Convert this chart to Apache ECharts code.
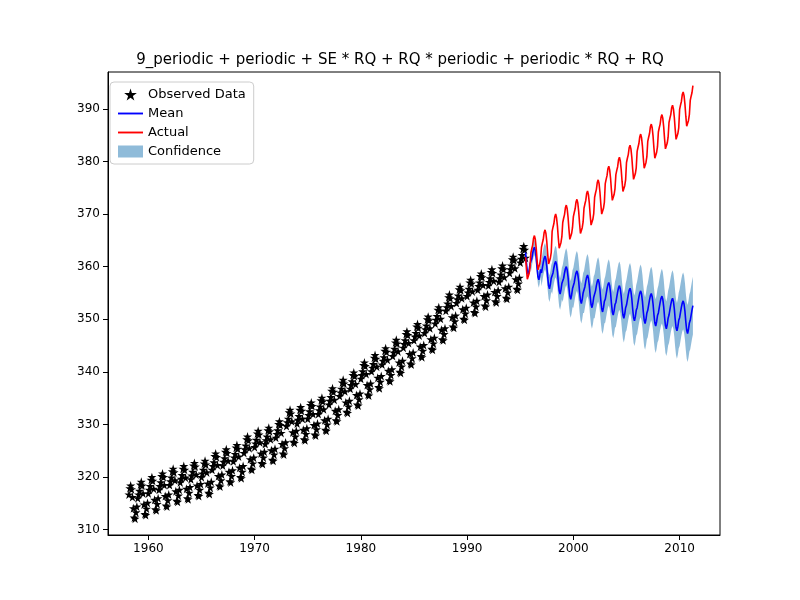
<!DOCTYPE html>
<html><head><meta charset="utf-8">
<script src="https://cdn.jsdelivr.net/npm/echarts@6/dist/echarts.min.js"></script>
<style>html,body{margin:0;background:#fff}#c{width:800px;height:600px}</style>
</head><body><div id="c"></div>
<script>
// Observed: annual levels 1958..1995 and monthly seasonal offsets
const obsYears = [1958,1959,1960,1961,1962,1963,1964,1965,1966,1967,1968,1969,1970,1971,1972,1973,1974,1975,1976,1977,1978,1979,1980,1981,1982,1983,1984,1985,1986,1987,1988,1989,1990,1991,1992,1993,1994,1995];
const obsLevel = [315.3,316.0,316.9,317.6,318.5,319.0,319.6,320.0,321.4,322.2,323.0,324.6,325.7,326.3,327.5,329.7,330.2,331.1,332.0,333.8,335.4,336.8,338.7,340.1,341.4,343.0,344.6,346.0,347.4,349.2,351.6,353.1,354.4,355.6,356.4,357.1,358.8,360.8];
const obsSeason = [0.0,0.7,1.4,2.6,3.1,2.4,0.9,-1.2,-3.0,-3.2,-2.0,-0.9];
// Actual (red) 1995..2011
const actYears = [1995,1996,1997,1998,1999,2000,2001,2002,2003,2004,2005,2006,2007,2008,2009,2010,2011];
const actLevel = [360.8,362.6,363.7,366.7,368.4,369.5,371.1,373.2,375.8,377.5,379.8,381.9,383.8,385.6,387.4,389.9,391.6];
const actSeason = [0.0,0.8,1.5,2.8,3.3,2.6,1.0,-1.3,-3.2,-3.4,-2.1,-1.0];
// Mean prediction (blue) and confidence half-width
const meanLevel = [361.5,360.5,358.8,357.8,356.8,356.0,355.2,354.4,353.8,353.2,352.7,352.2,351.7,351.2,350.8,350.3,349.8];
const meanSeason = [0.0,1.0,2.0,2.8,3.2,2.6,1.2,-0.8,-2.4,-3.0,-2.2,-1.0];
const halfWidth = [0.5,1.5,2.5,3.0,3.5,3.8,4.0,4.2,4.4,4.6,4.8,5.0,5.1,5.2,5.3,5.4,5.5];

const obs=[];
obsYears.forEach((y,i)=>{for(let m=0;m<12;m++){if(y===1958&&m<2)continue;const t=y+m/12;if(t>1995.5)break;obs.push([t,obsLevel[i]+obsSeason[m]]);}});
const act=[],mean=[],bandRows=[];
actYears.forEach((y,i)=>{for(let m=0;m<12;m++){const t=y+m/12;if(t<1995.5||t>2011.25)continue;
 act.push([t,actLevel[i]+actSeason[m]]);const mv=meanLevel[i]+meanSeason[m];mean.push([t,mv]);
 bandRows.push([t,mv-halfWidth[i],mv+halfWidth[i]]);}});

const star='path://M50,0 L61,35 L98,35 L68,57 L79,91 L50,70 L21,91 L32,57 L2,35 L39,35 Z';
const lineIcon='path://M0,0 L40,0 L40,3 L0,3 Z';
const c=echarts.init(document.getElementById('c'));
c.setOption({
 animation:false,
 title:{text:'9_periodic + periodic + SE * RQ + RQ * periodic + periodic * RQ + RQ',left:'center',top:48,textStyle:{fontSize:15,fontWeight:'normal',color:'#000',fontFamily:'DejaVu Sans'}},
 grid:{left:108,right:80,top:72,bottom:65,show:true,borderColor:'#000',borderWidth:1},
 xAxis:{type:'value',min:1956.2,max:2013.8,interval:10,axisLine:{onZero:false,lineStyle:{color:'#000'}},splitLine:{show:false},
  axisLabel:{color:'#000',fontSize:12,fontFamily:'DejaVu Sans',customValues:[1960,1970,1980,1990,2000,2010],formatter:v=>String(v)},
  axisTick:{customValues:[1960,1970,1980,1990,2000,2010],lineStyle:{color:'#000'}}},
 yAxis:{type:'value',min:309,max:397,axisLine:{show:true,onZero:false,lineStyle:{color:'#000'}},splitLine:{show:false},
  axisLabel:{color:'#000',fontSize:12,fontFamily:'DejaVu Sans',customValues:[310,320,330,340,350,360,370,380,390]},
  axisTick:{show:true,customValues:[310,320,330,340,350,360,370,380,390],lineStyle:{color:'#000'}}},
 legend:{orient:'vertical',left:110,top:82,backgroundColor:'#fff',borderColor:'#ccc',borderWidth:1,borderRadius:4,padding:[6,8],itemGap:6,itemWidth:25,itemHeight:12,
  textStyle:{fontSize:13,fontFamily:'DejaVu Sans',color:'#000'},
  data:[{name:'Observed Data',icon:star},{name:'Mean',icon:lineIcon},{name:'Actual',icon:lineIcon},{name:'Confidence',icon:'rect'}]},
 series:[
  {name:'Confidence',type:'custom',data:bandRows,itemStyle:{color:'rgba(31,119,180,0.5)'},
   renderItem:function(params,api){
     if(params.dataIndex!==0)return null;
     const up=bandRows.map(r=>api.coord([r[0],r[2]]));
     const dn=bandRows.map(r=>api.coord([r[0],r[1]])).reverse();
     return {type:'polygon',shape:{points:up.concat(dn)},style:{fill:'rgba(31,119,180,0.5)'}};
   },encode:{x:0,y:[1,2]}},
  {name:'Observed Data',type:'scatter',data:obs,symbol:star,symbolSize:9,itemStyle:{color:'#000',opacity:1}},
  {name:'Mean',type:'line',data:mean,symbol:'none',lineStyle:{color:'#0000ff',width:1.6},itemStyle:{color:'#0000ff'}},
  {name:'Actual',type:'line',data:act,symbol:'none',lineStyle:{color:'#ff0000',width:1.6},itemStyle:{color:'#ff0000'}}
 ]
});
</script></body></html>
